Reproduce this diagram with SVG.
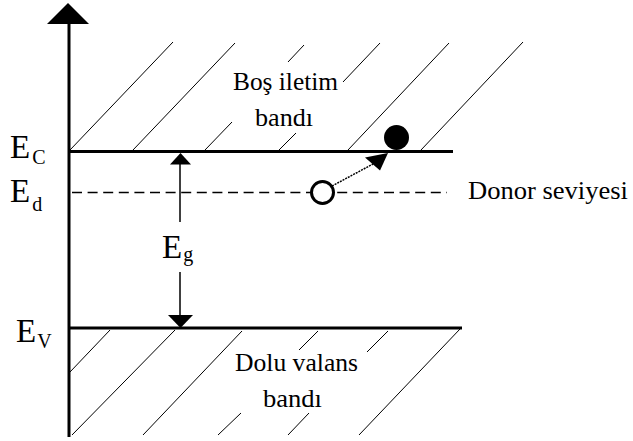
<svg xmlns="http://www.w3.org/2000/svg" width="633" height="441" viewBox="0 0 633 441">
<style>
.t{font-family:"Liberation Serif","Times New Roman",serif;fill:#000}
.big{font-size:33px}
.sub{font-size:20px}
.lbl{font-size:26px}
.hatch{stroke:#000;stroke-width:1;fill:none}
.thick{stroke:#000;stroke-width:3;fill:none}
</style>
<rect width="633" height="441" fill="#fff"/>
<g id="axis">
<line class="thick" x1="69" y1="437" x2="69" y2="22"/>
<polygon points="47,24 89,24 68,3" fill="#000"/>
</g>
<g id="conduction-band">
<g class="hatch">
<line x1="70" y1="150" x2="173" y2="42"/>
<line x1="133" y1="150" x2="235" y2="43"/>
<line x1="205" y1="150" x2="232" y2="122"/>
<line x1="288" y1="62" x2="304" y2="45"/>
<line x1="279" y1="150" x2="296" y2="133"/>
<line x1="343" y1="82" x2="380" y2="43"/>
<line x1="348" y1="150" x2="449" y2="43"/>
<line x1="421" y1="150" x2="523" y2="42"/>
</g>
<line class="thick" x1="68" y1="151.5" x2="453" y2="151.5"/>
<text class="t lbl" x="233" y="90" textLength="105" lengthAdjust="spacingAndGlyphs">Boş iletim</text>
<text class="t lbl" x="255" y="125.5" textLength="58" lengthAdjust="spacingAndGlyphs">bandı</text>
</g>
<g id="valence-band">
<g class="hatch">
<line x1="70" y1="372" x2="110" y2="330"/>
<line x1="72" y1="435" x2="175" y2="330"/>
<line x1="143" y1="435" x2="242" y2="331"/>
<line x1="218" y1="435" x2="241" y2="413"/>
<line x1="299" y1="350" x2="318" y2="331"/>
<line x1="288" y1="435" x2="309" y2="413"/>
<line x1="367" y1="352" x2="388" y2="331"/>
<line x1="359" y1="435" x2="460" y2="329"/>
</g>
<line class="thick" x1="68" y1="328" x2="462" y2="328"/>
<text class="t lbl" x="235" y="371" textLength="123" lengthAdjust="spacingAndGlyphs">Dolu valans</text>
<text class="t lbl" x="263" y="407" textLength="59" lengthAdjust="spacingAndGlyphs">bandı</text>
</g>
<g id="donor-level">
<line x1="72" y1="192.5" x2="447" y2="192.5" stroke="#000" stroke-width="1.5" stroke-dasharray="10 5.6"/>
<text class="t lbl" x="468" y="199" textLength="160" lengthAdjust="spacingAndGlyphs">Donor seviyesi</text>
</g>
<g id="labels">
<text class="t big" x="10" y="158">E<tspan class="sub" dx="2" dy="6">C</tspan></text>
<text class="t big" x="10" y="202">E<tspan class="sub" dx="2" dy="9">d</tspan></text>
<text class="t big" x="16" y="342">E<tspan class="sub" dx="1" dy="6">V</tspan></text>
<text class="t big" x="162" y="258">E<tspan class="sub" dx="1" dy="3">g</tspan></text>
</g>
<g id="connectors">
<line x1="180" y1="163" x2="180" y2="222" stroke="#000" stroke-width="1.5"/>
<polygon points="170,164.5 191,164.5 180.5,153" fill="#000"/>
<line x1="180" y1="272" x2="180" y2="316" stroke="#000" stroke-width="1.5"/>
<polygon points="168,315 193,315 180.5,328" fill="#000"/>
<line x1="332" y1="186" x2="373" y2="164" stroke="#000" stroke-width="1.5" stroke-dasharray="2 1"/>
<polygon points="388,153 365,157.5 380,170.5" fill="#000"/>
</g>
<g id="electron">
<circle cx="396.5" cy="137.5" r="12.5" fill="#000"/>
</g>
<g id="donor">
<circle cx="322.5" cy="192.5" r="11" fill="#fff" stroke="#000" stroke-width="3"/>
</g>
</svg>
